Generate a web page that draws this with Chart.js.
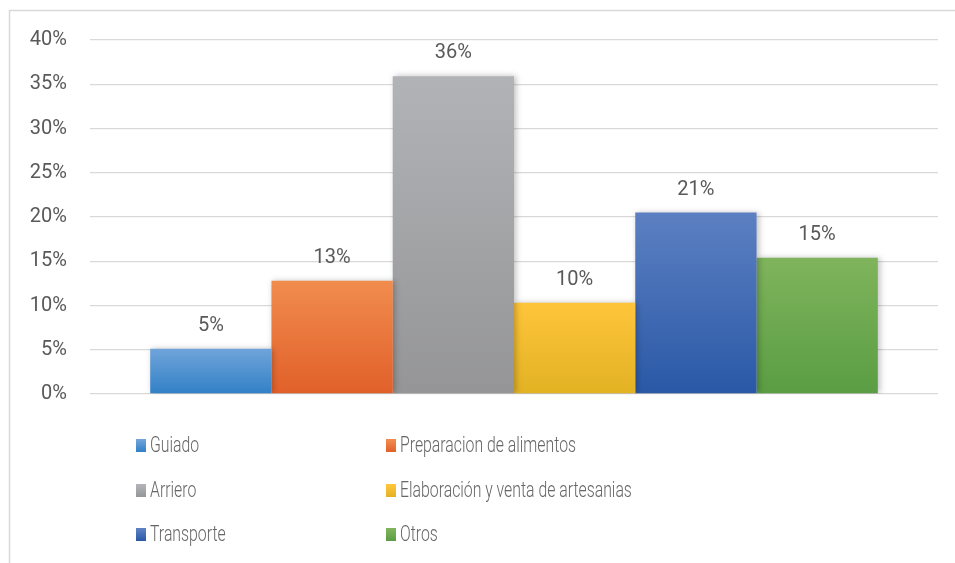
<!DOCTYPE html>
<html>
<head>
<meta charset="utf-8">
<script src="https://cdn.jsdelivr.net/npm/chart.js@4"></script>
<style>
  html, body { margin: 0; padding: 0; background: #fff; }
  #wrap { width: 955px; height: 563px; }
</style>
</head>
<body>
<div id="wrap"><canvas id="myChart" width="955" height="563"></canvas></div>
<script>
const categories = ['Guiado', 'Preparacion de alimentos', 'Arriero', 'Elaboración y venta de artesanias', 'Transporte', 'Otros'];
const values = [0.051, 0.128, 0.359, 0.103, 0.205, 0.154];
const valueLabels = ['5%', '13%', '36%', '10%', '21%', '15%'];
const topColors = ['#70a4da', '#f18c4e', '#b1b3b6', '#ffc53a', '#5c80c2', '#7fb45c'];
const bottomColors = ['#3180c6', '#e1602a', '#959597', '#e2b223', '#2a58a6', '#5a9d43'];

const gray = '#595959';

function barGradient(i) {
    return function (c) {
        const chart = c.chart;
        if (!chart.chartArea) return topColors[i];
        const y = chart.scales.y;
        const top = y.getPixelForValue(values[i]);
        const bottom = y.getPixelForValue(0);
        const g = chart.ctx.createLinearGradient(0, top, 0, bottom);
        g.addColorStop(0, topColors[i]);
        g.addColorStop(1, bottomColors[i]);
        return g;
    };
}

const datasets = categories.map(function (name, i) {
    return {
        label: name,
        data: [values[i]],
        backgroundColor: barGradient(i),
        borderWidth: 0
    };
});

const frame = {
    id: 'frame',
    beforeDraw(chart) {
        const ctx = chart.ctx;
        ctx.save();
        ctx.strokeStyle = '#d9d9d9';
        ctx.lineWidth = 1.5;
        ctx.strokeRect(9.5, 10.5, 2000, 2000);
        ctx.restore();
    }
};

const shadow = {
    id: 'shadow',
    beforeDatasetsDraw(chart) {
        const ctx = chart.ctx;
        ctx.save();
        ctx.shadowColor = 'rgba(0,0,0,0.25)';
        ctx.shadowBlur = 6;
        ctx.shadowOffsetX = 2;
        ctx.shadowOffsetY = 0;
    },
    afterDatasetsDraw(chart) {
        chart.ctx.restore();
    }
};

const valueText = {
    id: 'valueText',
    afterDatasetsDraw(chart) {
        const ctx = chart.ctx;
        ctx.save();
        ctx.font = '20px Roboto';
        ctx.fillStyle = gray;
        ctx.textAlign = 'center';
        ctx.textBaseline = 'alphabetic';
        chart.data.datasets.forEach(function (ds, i) {
            const bar = chart.getDatasetMeta(i).data[0];
            ctx.fillText(valueLabels[i], bar.x, bar.y - 18);
        });
        ctx.restore();
    }
};

// legend in two columns, text squeezed like the original condensed font
const gridLegend = {
    id: 'gridLegend',
    afterDraw(chart) {
        const ctx = chart.ctx;
        const colX = [136, 386];
        const rowY = [446, 491, 535];
        ctx.save();
        ctx.font = '300 22px Roboto';
        const sx = 176 / ctx.measureText('Preparacion de alimentos').width;
        ctx.textBaseline = 'middle';
        ctx.textAlign = 'left';
        chart.data.datasets.forEach(function (ds, i) {
            const x = colX[i % 2];
            const y = rowY[Math.floor(i / 2)];
            const g = ctx.createLinearGradient(0, y - 6, 0, y + 6);
            g.addColorStop(0, topColors[i]);
            g.addColorStop(1, bottomColors[i]);
            ctx.fillStyle = g;
            ctx.fillRect(x, y - 7, 10, 13);
            ctx.fillStyle = '#666666';
            ctx.save();
            ctx.translate(x + 14, y);
            ctx.scale(sx, 1);
            ctx.fillText(ds.label, 0, 0);
            ctx.restore();
        });
        ctx.restore();
    }
};

const ctx = document.getElementById('myChart').getContext('2d');
const myChart = new Chart(ctx, {
    type: 'bar',
    data: {
        labels: [''],
        datasets: datasets
    },
    options: {
        responsive: false,
        animation: false,
        layout: {
            padding: { left: 0, right: 17, top: 40, bottom: 169 }
        },
        datasets: {
            bar: {
                categoryPercentage: 0.858,
                barPercentage: 1
            }
        },
        scales: {
            x: {
                display: false
            },
            y: {
                min: 0,
                max: 0.4,
                afterFit: function (scale) { scale.width = 90; },
                border: { display: false },
                grid: {
                    color: '#d9d9d9',
                    lineWidth: 1.3,
                    drawTicks: false
                },
                ticks: {
                    stepSize: 0.05,
                    padding: 23,
                    color: gray,
                    font: { family: 'Roboto', size: 20 },
                    callback: function (v) { return Math.round(v * 100) + '%'; }
                }
            }
        },
        plugins: {
            legend: { display: false },
            tooltip: { enabled: false }
        }
    },
    plugins: [frame, shadow, valueText, gridLegend]
});
</script>
</body>
</html>
